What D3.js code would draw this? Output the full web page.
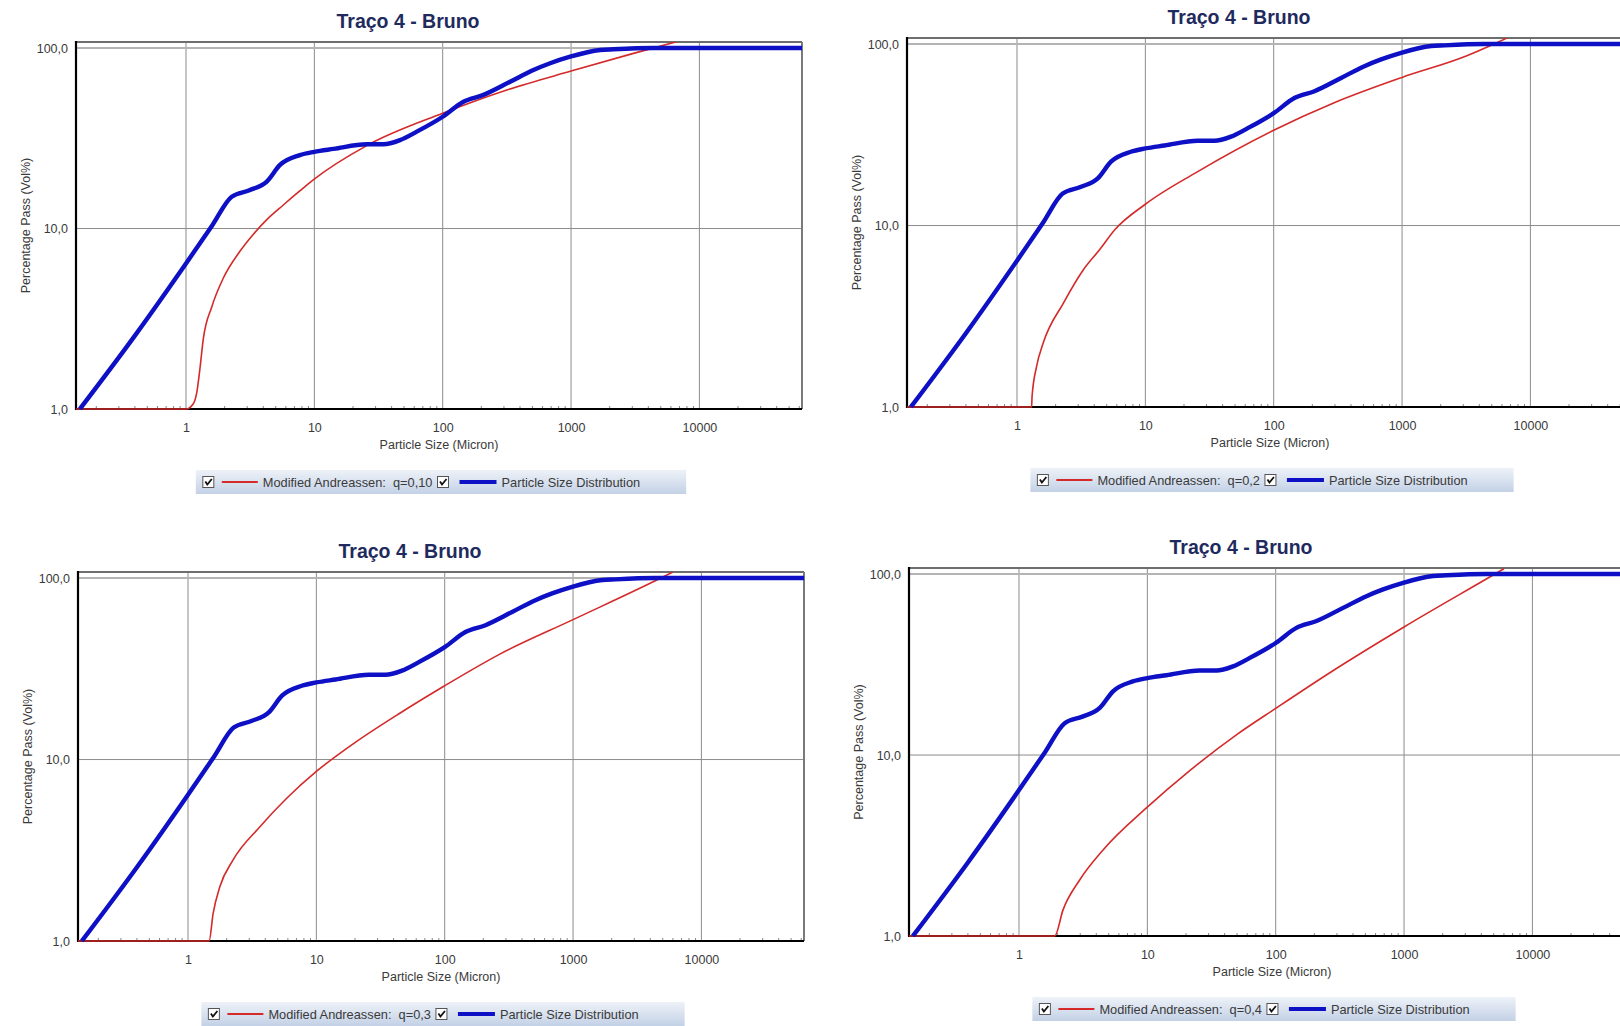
<!DOCTYPE html>
<html>
<head>
<meta charset="utf-8">
<script src="https://cdn.jsdelivr.net/npm/d3@7"></script>
<style>
  html, body { margin: 0; padding: 0; background: #fff; }
  svg { display: block; font-family: "Liberation Sans", Arial, sans-serif; }
</style>
</head>
<body>
<svg id="chart" width="1620" height="1026"></svg>
<script>
// Four PSD plots: same measured curve, Modified Andreassen fits for q = 0.1 .. 0.4

const TITLE = "Traço 4 - Bruno";
const X_LABEL = "Particle Size (Micron)";
const Y_LABEL = "Percentage Pass (Vol%)";
const X_TICKS = [1, 10, 100, 1000, 10000];
const Y_TICKS = [1, 10, 100];
const Y_TICK_LABELS = ["1,0", "10,0", "100,0"];
const X_DOMAIN = [0.139, 63000];
const Y_DOMAIN = [1, 108];

const LEGEND_PSD = "Particle Size Distribution";
const Q_LABELS = ["Modified Andreassen:\u00a0\u00a0q=0,10", "Modified Andreassen:\u00a0\u00a0q=0,2",
                  "Modified Andreassen:\u00a0\u00a0q=0,3", "Modified Andreassen:\u00a0\u00a0q=0,4"];

// measured particle size distribution [micron, % pass]
const PSD = [
  [0.149, 1.0], [0.4, 2.55], [1.0, 6.4], [1.6, 10.4], [2.27, 15.0], [3.12, 16.3],
  [4.26, 18.2], [5.4, 22.5], [7.7, 25.5], [10, 26.6], [14.1, 27.6], [25.6, 29.3],
  [34.5, 29.3], [46.5, 30.9], [62.8, 34.4], [100, 41.6], [145, 50.4], [208, 55],
  [335, 65], [509, 75.5], [687, 82.3], [984, 89.5], [1686, 97.5], [2140, 98.4],
  [4370, 100], [63000, 100]
];

// Modified Andreassen curves
const MA_Q010 = [
  [0.139, 1.0], [1.0, 1.0], [1.14, 1.07], [1.21, 1.22], [1.29, 1.72], [1.36, 2.41],
  [1.59, 3.69], [1.95, 5.3], [2.64, 7.5], [3.35, 9.3], [4.26, 11.2], [5.73, 13.5],
  [7.74, 16.2], [9.8, 18.6], [25.6, 28.8], [100, 43.5], [316, 58.5], [1000, 74.5],
  [3064, 93.4], [7520, 111]
];
const MA_Q02 = [
  [0.139, 1.0], [1.30, 1.0], [1.31, 1.14], [1.42, 1.67], [1.60, 2.25], [2.30, 3.74],
  [3.29, 5.71], [4.43, 7.4], [5.8, 9.5], [10, 13.1], [25.2, 19.7], [100, 33.5],
  [290, 47.2], [1000, 65.5], [3200, 86.2], [4860, 97.8], [6760, 109]
];
const MA_Q03 = [
  [0.139, 1.0], [1.46, 1.0], [1.57, 1.42], [1.77, 1.99], [2.24, 2.79], [3.62, 4.25],
  [5.85, 6.1], [10, 8.6], [20, 12.4], [44.7, 18.0], [100, 25.5], [269, 38.1],
  [1000, 59], [4830, 100], [6000, 108]
];
const MA_Q04 = [
  [0.139, 1.0], [1.90, 1.0], [2.20, 1.39], [2.97, 2.04], [4.52, 2.99], [9.84, 5.1],
  [21.4, 8.2], [50, 13.0], [100, 18.1], [264, 28.5], [1000, 51], [5100, 100],
  [6000, 107]
];
const MA_SERIES = [MA_Q010, MA_Q02, MA_Q03, MA_Q04];

// plot boxes on the page (left, top, width, height)
const PANELS = [
  { left: 76,  top: 42,  width: 726, height: 367 },
  { left: 907, top: 38,  width: 726, height: 369 },
  { left: 78,  top: 572, width: 726, height: 369 },
  { left: 909, top: 568, width: 726, height: 368 }
];

const BLUE = "#0d10c4", RED = "#d42a2a", TITLE_COLOR = "#1f2a5e", TEXT = "#3a3a3a";
const FONT = "Liberation Sans, Arial, sans-serif";

const svg = d3.select("#chart");
const defs = svg.append("defs");
const grad = defs.append("linearGradient").attr("id", "legGrad")
  .attr("x1", 0).attr("y1", 0).attr("x2", 0).attr("y2", 1);
grad.append("stop").attr("offset", "0%").attr("stop-color", "#eef2f8");
grad.append("stop").attr("offset", "100%").attr("stop-color", "#c3d1e6");

function minorTicks() {
  const out = [];
  for (let e = -1; e <= 4; e++)
    for (let k = 2; k <= 9; k++) {
      const v = k * Math.pow(10, e);
      if (v > X_DOMAIN[0] && v < X_DOMAIN[1]) out.push(v);
    }
  return out;
}

function checkbox(g, x, y) {
  g.append("rect").attr("x", x).attr("y", y).attr("width", 11).attr("height", 11)
    .attr("fill", "#fff").attr("stroke", "#555").attr("stroke-width", 1);
  g.append("path").attr("d", `M${x + 2.5},${y + 5} L${x + 4.5},${y + 8} L${x + 9},${y + 2.5}`)
    .attr("fill", "none").attr("stroke", "#111").attr("stroke-width", 1.8);
}

function drawPanel(box, series, qLabel, i) {
  const x = d3.scaleLog().domain(X_DOMAIN).range([box.left, box.left + box.width]);
  const y = d3.scaleLog().domain(Y_DOMAIN).range([box.top + box.height, box.top]);
  const bottom = box.top + box.height, right = box.left + box.width;
  const cx = box.left + box.width / 2;
  const g = svg.append("g").attr("class", "panel");

  // title
  g.append("text").attr("x", cx - 31).attr("y", box.top - 14)
    .attr("text-anchor", "middle").attr("font-size", 19.5).attr("font-weight", "bold")
    .attr("fill", TITLE_COLOR).text(TITLE);

  // grid
  g.selectAll("line.vgrid").data(X_TICKS).enter().append("line")
    .attr("x1", d => x(d)).attr("x2", d => x(d)).attr("y1", box.top).attr("y2", bottom)
    .attr("stroke", "#8c8c8c").attr("stroke-width", 1);
  g.append("line").attr("x1", box.left).attr("x2", right).attr("y1", y(10)).attr("y2", y(10))
    .attr("stroke", "#8c8c8c").attr("stroke-width", 1);
  g.append("line").attr("x1", box.left).attr("x2", right).attr("y1", y(100)).attr("y2", y(100))
    .attr("stroke", "#b4b4b4").attr("stroke-width", 2);

  // frame
  g.append("line").attr("x1", box.left).attr("x2", right).attr("y1", box.top).attr("y2", box.top)
    .attr("stroke", "#6e6e6e").attr("stroke-width", 2);
  g.append("line").attr("x1", right).attr("x2", right).attr("y1", box.top).attr("y2", bottom)
    .attr("stroke", "#7a7a7a").attr("stroke-width", 2);

  // axes
  g.append("g").attr("transform", `translate(0,${bottom})`)
    .call(d3.axisBottom(x).tickValues(X_TICKS).tickFormat(d3.format("d")).tickSize(0).tickPadding(14))
    .call(a => a.select(".domain").remove())
    .call(a => a.selectAll("text").attr("font-size", 12.5).attr("fill", TEXT).attr("font-family", FONT));
  g.selectAll("line.minor").data(minorTicks()).enter().append("line")
    .attr("x1", d => x(d)).attr("x2", d => x(d)).attr("y1", bottom).attr("y2", bottom - 3)
    .attr("stroke", "#888").attr("stroke-width", 1);

  g.append("g").attr("transform", `translate(${box.left},0)`)
    .call(d3.axisLeft(y).tickValues(Y_TICKS).tickFormat((d, j) => Y_TICK_LABELS[j]).tickSize(0).tickPadding(8))
    .call(a => a.select(".domain").remove())
    .call(a => a.selectAll("text").attr("font-size", 12.5).attr("fill", TEXT).attr("font-family", FONT));

  g.append("line").attr("x1", box.left).attr("x2", right).attr("y1", bottom).attr("y2", bottom)
    .attr("stroke", "#000").attr("stroke-width", 2.2);
  g.append("line").attr("x1", box.left).attr("x2", box.left).attr("y1", box.top - 1).attr("y2", bottom + 1)
    .attr("stroke", "#000").attr("stroke-width", 2.2);

  // axis titles
  g.append("text").attr("x", cx).attr("y", bottom + 39.5).attr("text-anchor", "middle")
    .attr("font-size", 12.5).attr("fill", TEXT).text(X_LABEL);
  g.append("text").attr("transform", `translate(${box.left - 46},${box.top + box.height / 2}) rotate(-90)`)
    .attr("text-anchor", "middle").attr("font-size", 12.5).attr("fill", TEXT).text(Y_LABEL);

  // series
  defs.append("clipPath").attr("id", "clip" + i).append("rect")
    .attr("x", box.left).attr("y", box.top).attr("width", box.width).attr("height", box.height + 2);
  const line = d3.line().x(d => x(d[0])).y(d => y(d[1])).curve(d3.curveMonotoneX);
  const lines = g.append("g").attr("clip-path", `url(#clip${i})`);
  lines.append("path").datum(series).attr("d", line).attr("fill", "none")
    .attr("stroke", RED).attr("stroke-width", 1.6);
  lines.append("path").datum(PSD).attr("d", line).attr("fill", "none")
    .attr("stroke", BLUE).attr("stroke-width", 4.4).attr("stroke-linejoin", "round");

  // legend
  const lg = g.append("g");
  const ly = bottom + 61, lh = 24;
  const bg = lg.append("rect").attr("y", ly).attr("height", lh).attr("fill", "url(#legGrad)");
  const items = lg.append("g");
  let px = 7;
  checkbox(items, px, ly + 6.5); px += 19;
  items.append("line").attr("x1", px).attr("x2", px + 36).attr("y1", ly + 12).attr("y2", ly + 12)
    .attr("stroke", RED).attr("stroke-width", 2);
  px += 41;
  const t1 = items.append("text").attr("x", px).attr("y", ly + 16.5).attr("font-size", 12.8)
    .attr("fill", TEXT).text(qLabel);
  px += t1.node().getComputedTextLength() + 5;
  checkbox(items, px, ly + 6.5); px += 22;
  items.append("line").attr("x1", px).attr("x2", px + 37).attr("y1", ly + 12).attr("y2", ly + 12)
    .attr("stroke", BLUE).attr("stroke-width", 4);
  px += 42;
  const t2 = items.append("text").attr("x", px).attr("y", ly + 16.5).attr("font-size", 12.8)
    .attr("fill", TEXT).text(LEGEND_PSD);
  px += t2.node().getComputedTextLength() + 46;
  const lx = cx + 2 - px / 2;
  bg.attr("x", lx).attr("width", px);
  items.attr("transform", `translate(${lx},0)`);
}

PANELS.forEach((box, i) => drawPanel(box, MA_SERIES[i], Q_LABELS[i], i));
</script>
</body>
</html>
